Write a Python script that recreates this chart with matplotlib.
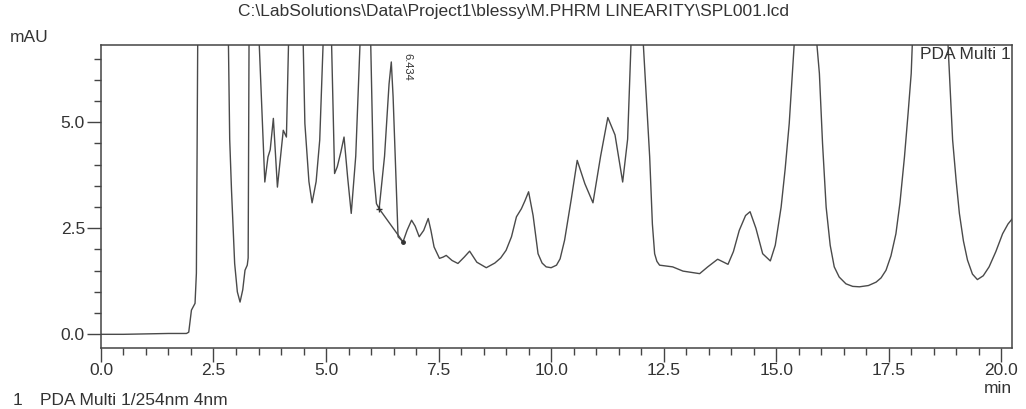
import matplotlib
matplotlib.use("Agg")
import matplotlib.pyplot as plt
from matplotlib.ticker import MultipleLocator

plt.rcParams['font.family'] = ['Liberation Sans', 'DejaVu Sans']

# chromatogram trace (min, mAU); peaks above the frame are clipped
tiempo = [0.0, 0.5, 1.0, 1.5, 1.9, 1.95, 2.01, 2.09, 2.12, 2.15, 2.45, 2.83,
          2.86, 2.90, 2.97, 3.03, 3.09, 3.15, 3.20, 3.25, 3.27, 3.29, 3.38, 3.51,
          3.64, 3.71, 3.76, 3.83, 3.92, 4.05, 4.12, 4.17, 4.33, 4.49,
          4.53, 4.62, 4.69, 4.78, 4.86, 4.94, 5.03, 5.12,
          5.19, 5.25, 5.33, 5.40, 5.48, 5.56, 5.66, 5.76, 5.87, 5.99,
          6.05, 6.12, 6.18, 6.30, 6.40, 6.45, 6.49, 6.55, 6.60, 6.71,
          6.80, 6.90, 6.98, 7.07, 7.17, 7.27, 7.33, 7.40, 7.52, 7.60, 7.67,
          7.80, 7.93, 8.07, 8.19, 8.35, 8.56, 8.75, 8.88, 9.0, 9.12, 9.23, 9.34,
          9.42, 9.50, 9.60, 9.71, 9.80, 9.89, 10.0, 10.12, 10.20, 10.30, 10.45,
          10.58, 10.75, 10.93, 11.10, 11.26, 11.42, 11.59, 11.70, 11.78, 11.91,
          12.04, 12.19, 12.25, 12.30, 12.35, 12.41, 12.70, 12.93, 13.30, 13.48,
          13.70, 13.93, 14.05, 14.18, 14.32, 14.42, 14.55, 14.70, 14.87, 14.98,
          15.11, 15.20, 15.29, 15.41, 15.65, 15.89, 15.96, 16.03, 16.11, 16.20,
          16.29, 16.40, 16.55, 16.70, 16.85, 17.05, 17.22, 17.33, 17.44, 17.55,
          17.66, 17.75, 17.85, 17.93, 18.0, 18.03, 18.42, 18.81, 18.92, 19.0,
          19.07, 19.16, 19.25, 19.36, 19.47, 19.60, 19.73, 19.88, 20.03, 20.15,
          20.25]
mau = [0.0, 0.0, 0.01, 0.02, 0.02, 0.05, 0.57, 0.73, 1.44, 7.0, 12.0, 7.0,
       4.6, 3.40, 1.67, 1.0, 0.76, 1.05, 1.51, 1.63, 1.8, 7.0, 10.0, 7.0,
       3.59, 4.18, 4.35, 5.09, 3.47, 4.81, 4.65, 7.0, 10.0, 7.0,
       4.97, 3.6, 3.10, 3.6, 4.58, 7.0, 10.0, 7.0,
       3.79, 3.95, 4.3, 4.65, 3.7, 2.85, 4.2, 7.0, 10.0, 7.0,
       3.9, 3.08, 2.96, 4.2, 5.9, 6.42, 5.6, 3.8, 2.30, 2.18,
       2.45, 2.69, 2.55, 2.30, 2.45, 2.73, 2.45, 2.06, 1.79, 1.82, 1.86,
       1.74, 1.67, 1.82, 1.96, 1.70, 1.57, 1.68, 1.80, 1.98, 2.3, 2.77, 2.96,
       3.15, 3.36, 2.8, 1.90, 1.68, 1.59, 1.57, 1.63, 1.78, 2.22, 3.2,
       4.10, 3.55, 3.10, 4.2, 5.11, 4.7, 3.59, 4.6, 7.0, 10.0,
       7.0, 4.18, 2.6, 1.9, 1.72, 1.63, 1.59, 1.49, 1.43, 1.59,
       1.77, 1.65, 1.95, 2.45, 2.8, 2.89, 2.5, 1.90, 1.73, 2.1,
       3.0, 3.9, 4.97, 7.0, 10.0, 7.0, 6.15, 4.5, 3.0, 2.1,
       1.59, 1.35, 1.19, 1.13, 1.12, 1.15, 1.23, 1.33, 1.51, 1.85,
       2.37, 3.1, 4.18, 5.2, 6.15, 7.0, 10.0, 7.0, 4.58, 3.6,
       2.85, 2.2, 1.75, 1.42, 1.29, 1.38, 1.59, 1.95, 2.37, 2.6,
       2.73]

# integration baseline under the 6.434 peak
base_t = [6.18, 6.71]
base_y = [2.96, 2.18]

pico_t = 6.434
pico_y = 6.42

xticks = [0.0, 2.5, 5.0, 7.5, 10.0, 12.5, 15.0, 17.5, 20.0]
yticks = [0.0, 2.5, 5.0]

fig = plt.figure(figsize=(10.26, 4.09), dpi=100)
ax = fig.add_axes([0.0984, 0.1491, 0.8880, 0.7409])

ax.plot(tiempo, mau, color='#4a4a4a', lw=1.0)
ax.plot(base_t, base_y, color='#4a4a4a', lw=1.0)
ax.plot(base_t[0], base_y[0], marker='+', color='#333333', ms=5, mew=1)
ax.plot(base_t[1], base_y[1], marker='o', color='#333333', ms=2.5)

ax.text(pico_t + 0.37, pico_y - 0.12, '6.434', rotation=-90, fontsize=8,
        ha='center', va='center', color='#333333')

ax.set_xlim(0, 20.24)
ax.set_ylim(-0.323, 6.82)
ax.set_xticks(xticks)
ax.set_yticks(yticks)
ax.set_xticklabels([f'{v:.1f}' for v in xticks])
ax.set_yticklabels([f'{v:.1f}' for v in yticks])
ax.xaxis.set_minor_locator(MultipleLocator(0.5))
ax.yaxis.set_minor_locator(MultipleLocator(0.5))
ax.tick_params(which='major', direction='out', length=10, width=1.0,
               color='#444444', labelsize=12.5, labelcolor='#333333', pad=1.5)
ax.tick_params(which='minor', direction='out', length=5, width=1.0, color='#444444')
ax.tick_params(axis='x', which='major', pad=1)
for s in ax.spines.values():
    s.set_color('#444444')
    s.set_linewidth(1.1)

ax.text(0.999, 0.995, 'PDA Multi 1', transform=ax.transAxes, ha='right', va='top',
        fontsize=12.5, color='#333333')

fig.text(0.5, 0.971, r'C:\LabSolutions\Data\Project1\blessy\M.PHRM LINEARITY\SPL001.lcd',
         ha='center', va='center', fontsize=12.5, color='#333333')
fig.text(0.0098, 0.909, 'mAU', ha='left', va='center', fontsize=12.5, color='#333333')
fig.text(0.9865, 0.050, 'min', ha='right', va='center', fontsize=12.5, color='#333333')
fig.text(0.0127, 0.020, '1', ha='left', va='center', fontsize=12.5, color='#333333')
fig.text(0.039, 0.020, 'PDA Multi 1/254nm 4nm', ha='left', va='center', fontsize=12.5,
         color='#333333')

fig.savefig('out.png', dpi=100)
